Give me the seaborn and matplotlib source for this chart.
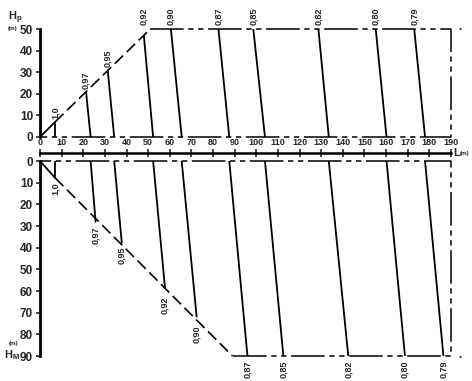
import matplotlib
matplotlib.use('Agg')
import matplotlib.pyplot as plt
import pandas as pd
import seaborn as sns

sns.set_style('white')
plt.rcParams['font.family'] = ['Liberation Sans', 'DejaVu Sans']
plt.rcParams['mathtext.fontset'] = 'custom'
plt.rcParams['mathtext.bf'] = 'Liberation Sans:bold'

# coefficient contours
coef_labels = ['1,0', '0,97', '0,95', '0,92', '0,90', '0,87', '0,85', '0,82', '0,80', '0,79']
hp_top_x = [7, 21.3, 31.3, 48, 60.5, 82.5, 98.6, 128.7, 155.2, 173]
hp_top_y = [7, 20.8, 31, 47, 50, 50, 50, 50, 50, 50]
surface_x = [7, 23.4, 34.3, 52.3, 65.5, 87.5, 104, 133.5, 160.2, 178]
hm_bot_x = [7, 25.7, 37.8, 57.8, 72.4, 95.9, 112.5, 142.5, 168.7, 186.5]
hm_bot_y = [7.8, 28, 37.7, 58.7, 71.8, 90, 90, 90, 90, 90]

L_max = 190
Hp_max = 50
Hm_max = 90
hp_corner_x = 51   # where the upper slope meets Hp = 50
hm_corner_x = 89   # where the lower slope meets Hm = 90

x_ticks = list(range(0, 191, 10))
hp_ticks = list(range(0, 51, 10))
hm_ticks = list(range(0, 91, 10))

# long-data frames for seaborn
rows_top, rows_bot = [], []
for c, tx, ty, sx, bx, by in zip(coef_labels, hp_top_x, hp_top_y, surface_x, hm_bot_x, hm_bot_y):
    rows_top += [dict(coef=c, step=0, L=tx, H=ty), dict(coef=c, step=1, L=sx, H=0)]
    rows_bot += [dict(coef=c, step=0, L=sx, H=0), dict(coef=c, step=1, L=bx, H=by)]
df_top = pd.DataFrame(rows_top)
df_bot = pd.DataFrame(rows_bot)

W, H = 472, 381
fig = plt.figure(figsize=(W / 100, H / 100), dpi=100)
x0, x1 = 40, 451
ax_top = fig.add_axes([x0 / W, 1 - 137 / H, (x1 - x0) / W, 108 / H])
ax_bot = fig.add_axes([x0 / W, 1 - 356 / H, (x1 - x0) / W, 195 / H])
ax_l = fig.add_axes([x0 / W, 1 - 153 / H, (x1 - x0) / W, 0.0001])

dash = dict(color='black', lw=1.1, dashes=(22, 3, 3.5, 3, 3.5, 3), clip_on=False)
slope = dict(color='black', lw=1.2, dashes=(7, 3), clip_on=False)

# upper panel
ax_top.plot([hp_corner_x, L_max, L_max, 0], [Hp_max, Hp_max, 0, 0], **dash)
ax_top.plot([hp_top_x[0], hp_corner_x], [hp_top_y[0], Hp_max], **slope)
sns.lineplot(data=df_top, x='L', y='H', units='coef', estimator=None, sort=False,
             color='black', lw=1.3, ax=ax_top, legend=False)
ax_top.plot([0, hp_top_x[0]], [0, hp_top_y[0]], color='black', lw=1.3)
for c, tx, ty in zip(coef_labels, hp_top_x, hp_top_y):
    ly = ty + 1.2 if ty < 45 else 52
    ax_top.text(tx, ly, c, rotation=90, ha='center', va='bottom',
                fontsize=6.5, fontweight='bold', clip_on=False)
ax_top.set_xlim(0, L_max)
ax_top.set_ylim(0, Hp_max)

# lower panel
ax_bot.plot([hm_corner_x, L_max, L_max, 0], [Hm_max, Hm_max, 0, 0], **dash)
ax_bot.plot([hm_bot_x[0], hm_corner_x], [hm_bot_y[0], Hm_max], **slope)
sns.lineplot(data=df_bot, x='L', y='H', units='coef', estimator=None, sort=False,
             color='black', lw=1.3, ax=ax_bot, legend=False)
ax_bot.plot([0, hm_bot_x[0]], [0, hm_bot_y[0]], color='black', lw=1.3)
for c, bx, by in zip(coef_labels, hm_bot_x, hm_bot_y):
    ly = by + 2 if by < 50 else (by + 4 if by < 85 else by + 2)
    ax_bot.text(bx, ly, c, rotation=90, ha='center', va='top',
                fontsize=6.5, fontweight='bold', clip_on=False)
ax_bot.set_xlim(0, L_max)
ax_bot.set_ylim(Hm_max, 0)

for ax, ticks in ((ax_top, hp_ticks), (ax_bot, hm_ticks)):
    for s in ('top', 'right', 'bottom'):
        ax.spines[s].set_visible(False)
    ax.spines['left'].set_linewidth(2)
    ax.spines['left'].set_color('black')
    ax.set_yticks(ticks)
    ax.set_xticks([])
    ax.tick_params(axis='y', left=True, direction='out', length=3, width=1.2,
                   pad=2, labelsize=8.5)
    for t in ax.get_yticklabels():
        t.set_fontweight('bold')
    ax.set_xlabel('')
    ax.set_ylabel('')
    ax.patch.set_alpha(0)

# L axis between the panels
for s in ('left', 'right', 'bottom'):
    ax_l.spines[s].set_visible(False)
ax_l.spines['top'].set_linewidth(1.8)
ax_l.spines['top'].set_color('black')
ax_l.set_xlim(0, L_max)
ax_l.set_yticks([])
ax_l.xaxis.tick_top()
ax_l.set_xticks(x_ticks)
ax_l.tick_params(axis='x', direction='inout', length=6, width=1.2, pad=1, labelsize=6.5)
for t in ax_l.get_xticklabels():
    t.set_fontweight('bold')

# axis titles and small marks
fig.text(8 / W, 1 - 20 / H, r'$\mathbf{H_p}$', fontsize=8)
fig.text(8 / W, 1 - 30 / H, '(m)', fontsize=4.5, fontweight='bold')
fig.text(9 / W, 1 - 345 / H, '(m)', fontsize=4.5, fontweight='bold')
fig.text(4 / W, 1 - 358 / H, r'$\mathbf{H_M}$', fontsize=8)
fig.text(453 / W, 1 - 156 / H, 'L', fontsize=8, fontweight='bold')
fig.text(460 / W, 1 - 155 / H, '(m)', fontsize=4.5, fontweight='bold')
fig.text(459 / W, 1 - 31 / H, '•', fontsize=6)
fig.text(459 / W, 1 - 359 / H, '•', fontsize=6)

fig.savefig('out.png', dpi=100)
